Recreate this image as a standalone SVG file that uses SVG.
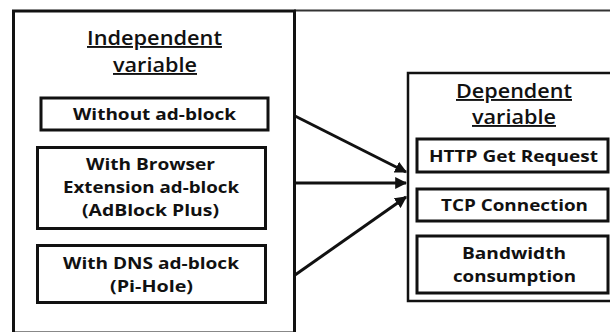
<svg xmlns="http://www.w3.org/2000/svg" width="610" height="332" viewBox="0 0 610 332">
<style>
  .frame { fill: #fff; stroke: #111; stroke-width: 2.5; }
  .box { fill: #fff; stroke: #111; stroke-width: 3; }
  .t { font-family: "Open Sans", "Liberation Sans", sans-serif; font-weight: 700; font-size: 16.5px; fill: #111; text-anchor: middle; }
  .title { font-family: "Open Sans", "Liberation Sans", sans-serif; font-weight: 600; font-size: 19px; fill: #111; text-anchor: middle; text-decoration: underline; }
  .conn { stroke: #111; stroke-width: 3; fill: none; marker-end: url(#ah); }
</style>
<defs>
  <marker id="ah" viewBox="0 0 10 10" refX="9" refY="5" markerWidth="4" markerHeight="4" orient="auto" markerUnits="strokeWidth">
    <path d="M0,0 L10,5 L0,10 z" fill="#111"/>
  </marker>
</defs>
<rect width="610" height="332" fill="#fff"/>
<line x1="294" y1="10.5" x2="610" y2="10.5" stroke="#333" stroke-width="2"/>
<g id="independent">
  <rect class="frame" x="13.5" y="11" width="281" height="322" style="stroke-width:3"/>
  <text class="title" x="154.5" y="45" textLength="135" lengthAdjust="spacingAndGlyphs">Independent</text>
  <text class="title" x="155" y="72" textLength="84" lengthAdjust="spacingAndGlyphs">variable</text>
</g>
<g id="without-adblock">
  <rect class="box" x="41" y="98" width="227" height="32"/>
  <text class="t" x="154.5" y="120" textLength="163" lengthAdjust="spacingAndGlyphs">Without ad-block</text>
</g>
<g id="browser-adblock">
  <rect class="box" x="37.5" y="147.5" width="228" height="81"/>
  <text class="t" x="150.5" y="170" textLength="129" lengthAdjust="spacingAndGlyphs">With Browser</text>
  <text class="t" x="151" y="193" textLength="176" lengthAdjust="spacingAndGlyphs">Extension ad-block</text>
  <text class="t" x="150.5" y="216" textLength="137" lengthAdjust="spacingAndGlyphs">(AdBlock Plus)</text>
</g>
<g id="dns-adblock">
  <rect class="box" x="37.5" y="245.5" width="228" height="57"/>
  <text class="t" x="151" y="269" textLength="176" lengthAdjust="spacingAndGlyphs">With DNS ad-block</text>
  <text class="t" x="151.5" y="292" textLength="83" lengthAdjust="spacingAndGlyphs">(Pi-Hole)</text>
</g>
<g id="dependent">
  <rect class="frame" x="408" y="73" width="210" height="228"/>
  <text class="title" x="514" y="98" textLength="116" lengthAdjust="spacingAndGlyphs">Dependent</text>
  <text class="title" x="514" y="124" textLength="84" lengthAdjust="spacingAndGlyphs">variable</text>
</g>
<g id="http-get">
  <rect class="box" x="417" y="139" width="191" height="33"/>
  <text class="t" x="513.5" y="162" textLength="169" lengthAdjust="spacingAndGlyphs">HTTP Get Request</text>
</g>
<g id="tcp">
  <rect class="box" x="417" y="189" width="191" height="32"/>
  <text class="t" x="514.5" y="211" textLength="147" lengthAdjust="spacingAndGlyphs">TCP Connection</text>
</g>
<g id="bandwidth">
  <rect class="box" x="417" y="236" width="191" height="57"/>
  <text class="t" x="514" y="259" textLength="104" lengthAdjust="spacingAndGlyphs">Bandwidth</text>
  <text class="t" x="514.5" y="281.5" textLength="123" lengthAdjust="spacingAndGlyphs">consumption</text>
</g>
<g id="connectors">
  <line class="conn" x1="295" y1="116" x2="406" y2="172"/>
  <line class="conn" x1="295" y1="183" x2="406" y2="183"/>
  <line class="conn" x1="295" y1="275" x2="406" y2="197"/>
</g>
</svg>
